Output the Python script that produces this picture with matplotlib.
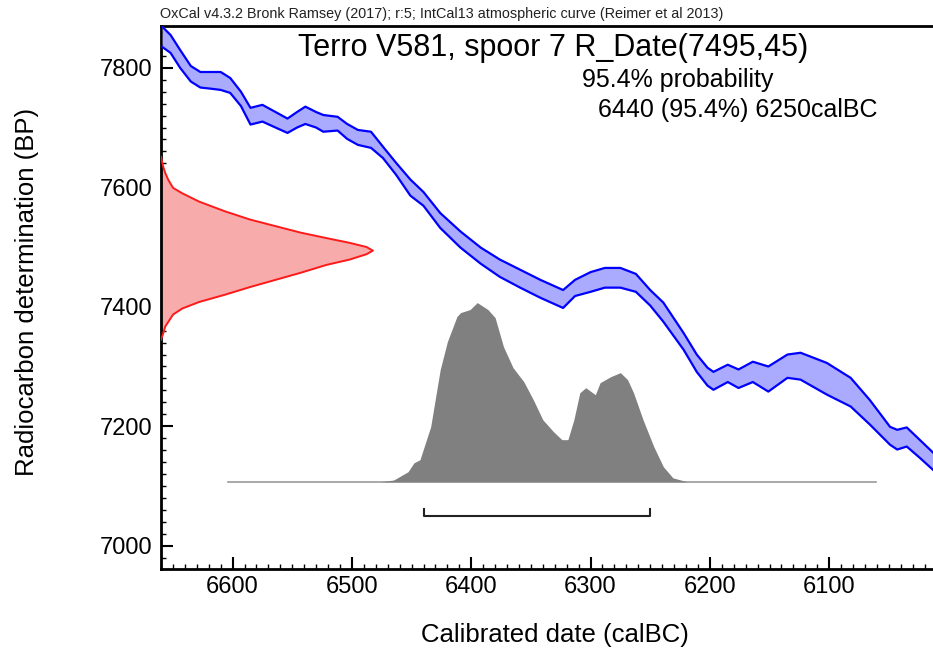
import numpy as np
import matplotlib
matplotlib.use("Agg")
import matplotlib.pyplot as plt
from matplotlib.ticker import MultipleLocator

plt.rcParams['font.family'] = ['Liberation Sans', 'DejaVu Sans']

# IntCal13 band (calBC, upper BP, lower BP)
curve_cal = [6659, 6652, 6644, 6635, 6627, 6618, 6610, 6602, 6593, 6585,
             6575, 6564, 6554, 6546, 6539, 6530, 6524, 6512, 6504, 6495,
             6484, 6474, 6463, 6451, 6440, 6426, 6409, 6392, 6376, 6359,
             6342, 6323, 6313, 6300, 6288, 6275, 6262, 6250, 6239, 6222,
             6211, 6202, 6197, 6185, 6176, 6164, 6151, 6135, 6124, 6102,
             6082, 6066, 6049, 6043, 6035, 6024, 6013]
curve_hi = [7869, 7855, 7830, 7803, 7793, 7793, 7793, 7783, 7760, 7733,
            7738, 7726, 7715, 7726, 7735, 7726, 7721, 7718, 7706, 7696,
            7693, 7668, 7641, 7613, 7592, 7557, 7526, 7499, 7479, 7462,
            7445, 7428, 7445, 7458, 7465, 7465, 7455, 7428, 7407, 7356,
            7320, 7298, 7291, 7303, 7295, 7308, 7300, 7320, 7323, 7306,
            7281, 7244, 7199, 7194, 7198, 7177, 7156]
curve_lo = [7835, 7825, 7800, 7777, 7767, 7765, 7763, 7758, 7736, 7705,
            7710, 7700, 7691, 7700, 7706, 7700, 7693, 7695, 7681, 7671,
            7666, 7649, 7621, 7586, 7569, 7532, 7499, 7472, 7450, 7432,
            7415, 7398, 7418, 7425, 7432, 7432, 7425, 7402, 7375, 7328,
            7291, 7268, 7261, 7274, 7264, 7274, 7258, 7281, 7278, 7253,
            7233, 7203, 7169, 7161, 7166, 7147, 7127]

# R_Date(7495,45): relative density against BP
rdate_bp = [7651, 7635, 7624, 7612, 7599, 7590, 7576, 7560, 7546, 7535,
            7524, 7515, 7507, 7500, 7494, 7488, 7479, 7470, 7457, 7445,
            7433, 7420, 7408, 7397, 7387, 7375, 7367, 7355, 7345]
rdate_p = [0.0, 0.01, 0.02, 0.035, 0.057, 0.10, 0.18, 0.30, 0.42, 0.54,
           0.66, 0.78, 0.89, 0.97, 1.0, 0.97, 0.89, 0.78, 0.66, 0.54,
           0.42, 0.30, 0.18, 0.10, 0.057, 0.035, 0.02, 0.01, 0.0]

# calibrated distribution: calBC vs relative probability
post_cal = [6476, 6465, 6453, 6448, 6443, 6434, 6426, 6420, 6412, 6409,
            6401, 6395, 6386, 6380, 6373, 6365, 6356, 6348, 6340, 6331,
            6324, 6319, 6314, 6309, 6304, 6296, 6292, 6283, 6275, 6269,
            6264, 6256, 6247, 6239, 6231, 6219]
post_p = [0.0, 0.01, 0.056, 0.106, 0.123, 0.307, 0.626, 0.782, 0.922, 0.944,
          0.961, 1.0, 0.961, 0.916, 0.754, 0.637, 0.559, 0.458, 0.346, 0.279,
          0.235, 0.235, 0.346, 0.497, 0.525, 0.486, 0.553, 0.587, 0.609, 0.570,
          0.497, 0.346, 0.196, 0.084, 0.022, 0.0]
post_span = [6604, 6061]
range_95 = [6440, 6250]

X_LEFT, X_RIGHT = 6660, 6013
Y_LOW, Y_HIGH = 6961, 7870
POST_BASE, POST_H = 7107, 300
RDATE_W = 177.6
BAR_Y, BAR_TICK = 7049, 13

fig = plt.figure(figsize=(9.33, 6.53), dpi=100)
ax = fig.add_axes([161 / 933, 84 / 653, 772 / 933, 543 / 653])

# posterior
post_top = POST_BASE + np.array(post_p) * POST_H
ax.fill_between(post_cal, POST_BASE, post_top, color='#808080', lw=0, zorder=2)
ax.plot(post_span, [POST_BASE, POST_BASE], color='#9a9a9a', lw=1.2, zorder=1)
ax.plot([range_95[0], range_95[0], range_95[1], range_95[1]],
        [BAR_Y + BAR_TICK, BAR_Y, BAR_Y, BAR_Y + BAR_TICK], color='#222222', lw=1.5)

# radiocarbon date
r_x = X_LEFT - np.array(rdate_p) * RDATE_W
ax.fill_betweenx(rdate_bp, X_LEFT, r_x, color='#f8abab', lw=0, zorder=2)
ax.plot(r_x, rdate_bp, color='#ff1a1a', lw=1.4, zorder=3)

# calibration curve
ax.fill_between(curve_cal, curve_lo, curve_hi, color='#aaaaff', lw=0, zorder=3)
ax.plot(curve_cal, curve_hi, color='#0000ff', lw=1.6, zorder=4)
ax.plot(curve_cal, curve_lo, color='#0000ff', lw=1.6, zorder=4)

ax.set_xlim(X_LEFT, X_RIGHT)
ax.set_ylim(Y_LOW, Y_HIGH)
ax.xaxis.set_major_locator(MultipleLocator(100))
ax.xaxis.set_minor_locator(MultipleLocator(10))
ax.yaxis.set_major_locator(MultipleLocator(200))
ax.yaxis.set_minor_locator(MultipleLocator(20))
ax.tick_params(which='major', direction='in', length=8.5, width=1.5, labelsize=17, pad=5)
ax.tick_params(which='minor', direction='in', length=3.5, width=1)
ax.tick_params(axis='y', which='major', pad=6)
ax.spines['right'].set_visible(False)
for s in ['left', 'bottom', 'top']:
    ax.spines[s].set_linewidth(2)

fig.text(160 / 933, 1 - 14 / 653,
         "OxCal v4.3.2 Bronk Ramsey (2017); r:5; IntCal13 atmospheric curve (Reimer et al 2013)",
         fontsize=10.4, ha='left', va='center', color='#222222')
fig.text(553 / 933, 1 - 48 / 653, "Terro V581, spoor 7 R_Date(7495,45)",
         fontsize=22, ha='center', va='center')
fig.text(582 / 933, 1 - 80 / 653, "95.4% probability", fontsize=18, ha='left', va='center')
fig.text(598 / 933, 1 - 110 / 653, "6440 (95.4%) 6250calBC", fontsize=18, ha='left', va='center')
fig.text(555 / 933, 1 - 635 / 653, "Calibrated date (calBC)", fontsize=18.5, ha='center', va='center')
fig.text(27 / 933, 1 - 292 / 653, "Radiocarbon determination (BP)", fontsize=18.5,
         ha='center', va='center', rotation=90)

fig.savefig("out.png", dpi=100)
